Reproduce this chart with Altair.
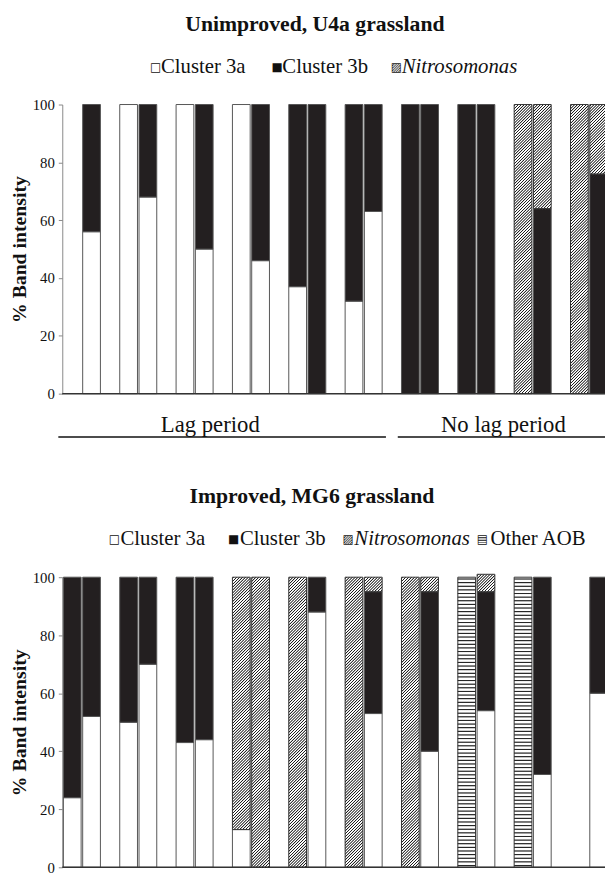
import altair as alt
import pandas as pd

# ---------------- data ----------------
GROUPS = list(range(1, 11))          # 10 pairs of bars per panel
SERIES = ["Cluster 3a", "Cluster 3b", "Nitrosomonas", "Other AOB"]

# 20 bars per panel (pair 1 bar A, pair 1 bar B, pair 2 bar A, ...)
u4a_cluster3a = [0, 56, 100, 68, 100, 50, 100, 46, 37, 0, 32, 63, 0, 0, 0, 0, 0, 0, 0, 0]
u4a_cluster3b = [0, 44, 0, 32, 0, 50, 0, 54, 63, 100, 68, 37, 100, 100, 100, 100, 0, 64, 0, 76]
u4a_nitroso   = [0, 0, 0, 0, 0, 0, 0, 0, 0, 0, 0, 0, 0, 0, 0, 0, 100, 36, 100, 24]
u4a_other     = [0] * 20

mg6_cluster3a = [24, 52, 50, 70, 43, 44, 13, 0, 0, 88, 0, 53, 0, 40, 0, 54, 0, 32, 0, 60]
mg6_cluster3b = [76, 48, 50, 30, 57, 56, 0, 0, 0, 12, 0, 42, 0, 55, 0, 41, 0, 68, 0, 40]
mg6_nitroso   = [0, 0, 0, 0, 0, 0, 87, 100, 100, 0, 100, 5, 100, 5, 0, 6, 0, 0, 0, 0]
mg6_other     = [0, 0, 0, 0, 0, 0, 0, 0, 0, 0, 0, 0, 0, 0, 100, 0, 100, 0, 0, 0]

TITLES = {"U4a": "Unimproved, U4a grassland", "MG6": "Improved, MG6 grassland"}
Y_TICKS = [0, 20, 40, 60, 80, 100]

# ---------------- layout constants ----------------
FONT = "Liberation Serif"
PAD_L, PAD_T = 55, 92
W, H = 542, 773
XRANGE = 553.7
P_IN, P_OUT, SUB_PAD = 0.343, 0.02, 0.08
Y_RANGE = {"U4a": [293, 0], "MG6": [773, 479]}
UNIT_PX = {"U4a": 2.93, "MG6": 2.94}     # pixels per 1 % on each panel

step = XRANGE / (len(GROUPS) - P_IN + 2 * P_OUT)
band = step * (1 - P_IN)
BAR_W = band / (2 - SUB_PAD) * (1 - SUB_PAD)

rows = []
for panel, lists in [("U4a", [u4a_cluster3a, u4a_cluster3b, u4a_nitroso, u4a_other]),
                     ("MG6", [mg6_cluster3a, mg6_cluster3b, mg6_nitroso, mg6_other])]:
    for i in range(20):
        cum = 0
        for name, vals in zip(SERIES, lists):
            v = vals[i]
            if v > 0:
                rows.append({"panel": panel, "group": GROUPS[i // 2], "sub": i % 2,
                             "series": name, "start": cum, "end": cum + v, "span": v})
                cum += v
df = pd.DataFrame(rows)

# texture tiles: each hatched segment is covered by overlapping tiles of equal size,
# so one small gradient per layer paints a continuous hatch
TILE_UNITS = {"Nitrosomonas": 1, "Other AOB": 5}
tiles = []
for r in df[df.series.isin(list(TILE_UNITS))].itertuples():
    tu = TILE_UNITS[r.series]
    n = int(r.span // tu)
    for k in range(n - 1):
        tiles.append({"panel": r.panel, "group": r.group, "sub": r.sub, "series": r.series,
                      "start": r.start + k * tu, "end": r.start + (k + 2) * tu})
tiles = pd.DataFrame(tiles)


def diag_gradient(w, h, period, dark="#1e1e1e", light="#ffffff"):
    total = w + h
    k = total / (w * w + h * h)
    stops = []
    i = -1
    while i * period < total + period:
        base0 = i * period
        for frac, col in [(0.0, light), (0.18, light), (0.42, dark), (0.58, dark), (0.82, light)]:
            off = (base0 + frac * period) / total
            stops.append({"offset": min(max(off, 0.0), 1.0), "color": col})
        i += 1
    return {"gradient": "linear", "x1": 0, "y1": 0, "x2": w * k, "y2": h * k, "stops": stops}


def horiz_gradient(h, period, dark="#262626", light="#ffffff"):
    stops = []
    i = 0
    while i * period < h:
        base0 = i * period
        for frac, col in [(0.0, light), (0.22, light), (0.45, dark), (0.55, dark), (0.78, light)]:
            off = (base0 + frac * period) / h
            stops.append({"offset": min(max(off, 0.0), 1.0), "color": col})
        i += 1
    return {"gradient": "linear", "x1": 0, "y1": 0, "x2": 0, "y2": 1, "stops": stops}


X = alt.X("group:O", scale=alt.Scale(domain=GROUPS, range=[0, XRANGE],
                                     paddingInner=P_IN, paddingOuter=P_OUT), axis=None)
XO = alt.XOffset("sub:O", scale=alt.Scale(domain=[0, 1], paddingInner=SUB_PAD, paddingOuter=0))


def yscale(panel):
    return alt.Scale(domain=[0, 100], range=Y_RANGE[panel], nice=False)


def y_axis():
    return alt.Axis(values=Y_TICKS, title="% Band intensity", orient="left", grid=False,
                    labelFont=FONT, labelFontSize=15, labelColor="#111",
                    titleFont=FONT, titleFontSize=20, titleFontWeight="bold", titleColor="#111",
                    titleX=-43, titleBaseline="middle", titleAngle=-90,
                    domainColor="#888", tickColor="#888", tickSize=4, labelPadding=4)


layers = []
for panel in ["U4a", "MG6"]:
    base = alt.Chart(df).transform_filter(alt.datum.panel == panel)
    tbase = alt.Chart(tiles).transform_filter(alt.datum.panel == panel)
    # solid bars
    layers.append(
        base.transform_filter(alt.FieldOneOfPredicate(field="series", oneOf=["Cluster 3a", "Cluster 3b"]))
        .mark_bar(stroke="#555555", strokeWidth=1)
        .encode(x=X, xOffset=XO,
                y=alt.Y("start:Q", scale=yscale(panel), axis=y_axis()),
                y2="end:Q",
                fill=alt.Fill("series:N", scale=alt.Scale(domain=["Cluster 3a", "Cluster 3b"],
                                                          range=["#ffffff", "#231f20"]), legend=None))
    )
    # hatch textures
    up = UNIT_PX[panel]
    layers.append(
        tbase.transform_filter(alt.datum.series == "Nitrosomonas")
        .mark_bar(strokeWidth=0, fill=diag_gradient(BAR_W, 2 * up, period=up))
        .encode(x=X, xOffset=XO, y=alt.Y("start:Q", scale=yscale(panel), axis=None), y2="end:Q")
    )
    if ((tiles.panel == panel) & (tiles.series == "Other AOB")).any():
        tu = TILE_UNITS["Other AOB"]
        layers.append(
            tbase.transform_filter(alt.datum.series == "Other AOB")
            .mark_bar(strokeWidth=0, fill=horiz_gradient(2 * tu * up, period=tu * up / 4))
            .encode(x=X, xOffset=XO, y=alt.Y("start:Q", scale=yscale(panel), axis=None), y2="end:Q")
        )
    # outlines of textured segments
    layers.append(
        base.transform_filter(alt.FieldOneOfPredicate(field="series", oneOf=["Nitrosomonas", "Other AOB"]))
        .mark_bar(fillOpacity=0, stroke="#333333", strokeWidth=1)
        .encode(x=X, xOffset=XO, y=alt.Y("start:Q", scale=yscale(panel), axis=None), y2="end:Q")
    )
    # baseline
    layers.append(
        alt.Chart(pd.DataFrame({"v": [0]})).mark_rule(color="#333333", strokeWidth=1.5)
        .encode(y=alt.Y("v:Q", scale=yscale(panel), axis=None),
                x=alt.value(0), x2=alt.value(W + 8))
    )

one = pd.DataFrame({"a": [0]})


def label(text, x, y, size=18, weight="normal", style="normal", align="left", font=FONT):
    return alt.Chart(one).mark_text(text=text, font=font, fontSize=size, fontWeight=weight,
                                    fontStyle=style, align=align, baseline="middle",
                                    color="#111").encode(x=alt.value(x), y=alt.value(y))


# titles (x/y relative to the plot origin at page (63, 100))
layers.append(label(TITLES["U4a"], 256, -82, size=22, weight="bold", align="center"))
layers.append(label(TITLES["MG6"], 253, 397, size=22, weight="bold", align="center"))

SYM = "DejaVu Sans"
LEG = 21
SYMS = 12
# top legend
ly = -38
layers += [label("\u25a1", 89, ly, size=SYMS, font=SYM), label("Cluster 3a", 100, ly, size=LEG),
           label("\u25a0", 212, ly, size=SYMS, font=SYM), label("Cluster 3b", 223, ly, size=LEG),
           label("\u25a8", 333, ly, size=SYMS, font=SYM), label("Nitrosomonas", 344, ly, size=LEG, style="italic")]
# bottom legend
ly2 = 440
layers += [label("\u25a1", 47, ly2, size=SYMS, font=SYM), label("Cluster 3a", 59, ly2, size=LEG),
           label("\u25a0", 168, ly2, size=SYMS, font=SYM), label("Cluster 3b", 180, ly2, size=LEG),
           label("\u25a8", 284, ly2, size=SYMS, font=SYM), label("Nitrosomonas", 296, ly2, size=LEG, style="italic"),
           label("\u25a4", 420, ly2, size=SYMS, font=SYM), label("Other AOB", 434, ly2, size=LEG)]

# period annotations under the top panel
layers.append(label("Lag period", 150, 325, size=23, align="center"))
layers.append(label("No lag period", 447, 325, size=23, align="center"))
layers.append(alt.Chart(one).mark_rule(color="#111", strokeWidth=1.5)
              .encode(x=alt.value(-4), x2=alt.value(328), y=alt.value(337)))
layers.append(alt.Chart(one).mark_rule(color="#111", strokeWidth=1.5)
              .encode(x=alt.value(340), x2=alt.value(W + 8), y=alt.value(337)))

chart = (alt.layer(*layers)
         .resolve_scale(y="independent")
         .properties(width=W, height=H,
                     autosize=alt.AutoSizeParams(type="none"),
                     padding={"left": PAD_L, "top": PAD_T, "right": 8, "bottom": 4})
         .configure_view(stroke=None))

chart.save("out.html", embed_options={"renderer": "svg", "actions": False})
